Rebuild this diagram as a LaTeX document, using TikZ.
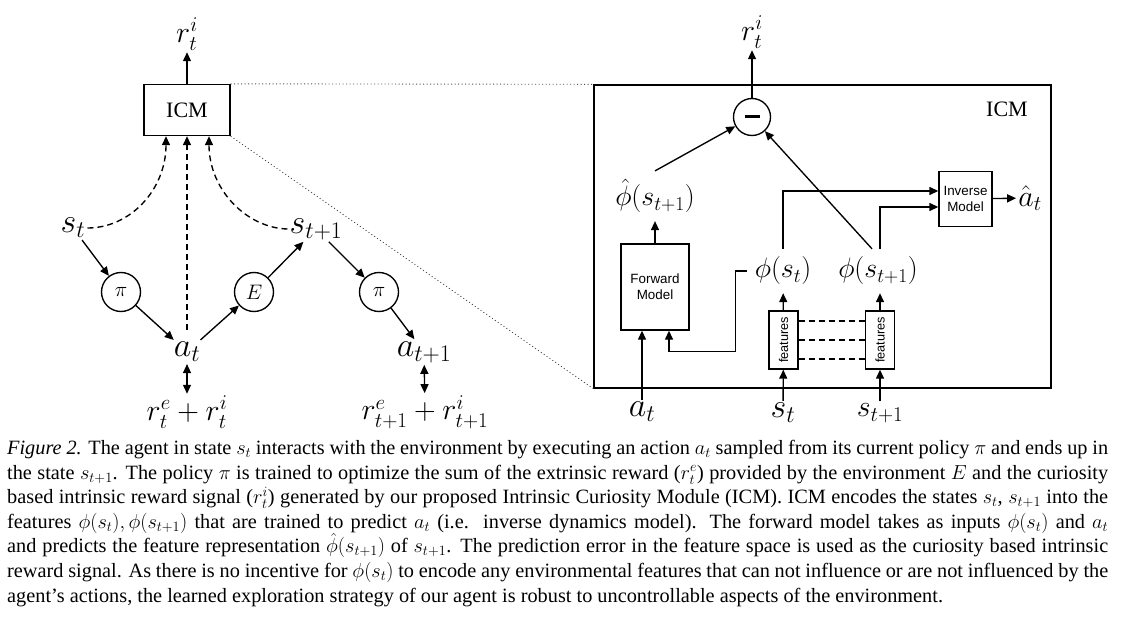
\RequirePackage{fix-cm}
\documentclass[tikz,border=0pt]{standalone}
\usepackage[no-math]{fontspec}
\setmainfont{Liberation Serif}
\setsansfont{Liberation Sans}
\usepackage{graphicx}
\usetikzlibrary{arrows.meta}

\tikzset{
  arr/.style={-{Triangle[length=9pt,width=8pt]}, line width=1.35pt},
  darr/.style={{Triangle[length=9pt,width=8pt]}-{Triangle[length=9pt,width=8pt]}, line width=1.35pt},
  dashline/.style={line width=1.35pt, dash pattern=on 6pt off 4pt},
  dots/.style={line width=0.9pt, dash pattern=on 1pt off 2.5pt, black!70},
  var/.style={font=\fontsize{34}{40}\selectfont, inner sep=2pt},
  rew/.style={font=\fontsize{30}{36}\selectfont, inner sep=2pt},
  feat/.style={font=\fontsize{28}{34}\selectfont, inner sep=8pt},
  policy/.style={circle, draw, line width=1.35pt, minimum size=39pt, inner sep=0pt, font=\fontsize{21}{25}\selectfont},
  module/.style={draw, line width=1.35pt, inner sep=0pt, align=center, font=\fontsize{13.4}{16}\selectfont\sffamily},
  featbox/.style={draw, line width=1.35pt, minimum width=29pt, minimum height=58pt, inner sep=0pt, font=\fontsize{12.7}{15}\selectfont\sffamily}
}

\begin{document}
\begin{tikzpicture}[x=1pt,y=-1pt]
\useasboundingbox (0,0) rectangle (1129,628);

% left: agent and environment
\node[draw, line width=1.35pt, minimum width=86pt, minimum height=51pt, font=\fontsize{22}{26}\selectfont] (icm) at (187,110) {ICM};
\node[rew] (rl) at (187,34) {$r^i_t$};
\node[var] (st) at (73,228) {$s_t$};
\node[var] (st1) at (316,229) {$s_{t+1}$};
\node[var] (at) at (187,352) {$a_t$};
\node[var] (at1) at (424,352) {$a_{t+1}$};
\node[rew] (rsum) at (187,412) {$r^e_t + r^i_t$};
\node[rew] (rsum1) at (425,412) {$r^e_{t+1} + r^i_{t+1}$};
\node[policy] (pi1) at (121,292) {$\pi$};
\node[policy] (env) at (254,292) {$E$};
\node[policy] (pi2) at (379,292) {$\pi$};

\draw[arr] (icm) -- (rl);
\draw[arr] (st) -- (pi1);
\draw[arr] (pi1) -- (at);
\draw[arr] (at) -- (env);
\draw[arr] (env) -- (st1);
\draw[arr] (st1) -- (pi2);
\draw[arr] (pi2) -- (at1);
\draw[darr] (at) -- (rsum);
\draw[darr] (at1) -- (rsum1);

\draw[dashline, arr] (st.east) .. controls (130,228) and (166,190) .. ([xshift=-21pt]icm.south);
\draw[dashline, arr] ([yshift=10pt]at.north) -- (icm.south);
\draw[dashline, arr] (st1.west) .. controls (247,228) and (209,190) .. ([xshift=22pt]icm.south);

% right: inside the ICM
\node[draw, line width=1.35pt, minimum width=457pt, minimum height=303pt] (icmbox) at (822.5,236.5) {};
\node[font=\fontsize{22}{26}\selectfont] (icmname) at (1007,109) {ICM};
\draw[dots] (icm.north east) -- (icmbox.north west);
\draw[dots] (icm.south east) -- (icmbox.south west);

\node[circle, draw, line width=1.35pt, minimum size=37pt, inner sep=0pt] (minus) at (752,117) {\rule{15pt}{3pt}};
\node[rew] (rr) at (752,32) {$r^i_t$};
\node[feat] (hatphi) at (655,196) {$\hat{\phi}(s_{t+1})$};
\node[module, minimum width=68pt, minimum height=86pt] (fwd) at (655,287) {Forward\\Model};
\node[module, minimum width=53pt, minimum height=55pt] (inv) at (965.5,199) {Inverse\\Model};
\node[rew] (ahat) at (1030,198) {$\hat{a}_t$};
\node[feat] (phist) at (783,271) {$\phi(s_t)$};
\node[feat] (phist1) at (878,271) {$\phi(s_{t+1})$};
\node[featbox] (feat1) at (783.5,340) {\rotatebox{90}{features}};
\node[featbox] (feat2) at (880,340) {\rotatebox{90}{features}};
\node[var] (atb) at (642,412) {$a_t$};
\node[var] (stb) at (783,413) {$s_t$};
\node[rew] (st1b) at (880,413) {$s_{t+1}$};

\draw[arr] (minus) -- (rr);
\draw[arr] (hatphi.north) -- (minus);
\draw[arr] ([xshift=-6pt]phist1.north) -- (minus);
\draw[arr] (fwd) -- (hatphi);
\draw[arr] (inv) -- (ahat);
\draw[arr] (phist.north) |- ([yshift=8pt]inv.west);
\draw[arr] ([xshift=2pt]phist1.north) |- ([yshift=-8pt]inv.west);
\draw[arr] (phist.west) -- ++(-11,0) |- ([xshift=14pt,yshift=-21pt]fwd.south) -- ([xshift=14pt]fwd.south);
\draw[arr] (atb) -- (atb |- fwd.south);
\draw[arr] (stb) -- (feat1);
\draw[arr] (st1b) -- (feat2);
\draw[arr] (feat1) -- (phist);
\draw[arr] (feat2) -- (feat2 |- phist1.south);
\foreach \dy in {-19,0,19}
  \draw[dashline] ([yshift=\dy pt]feat1.east) -- ([yshift=\dy pt]feat2.west);

% caption
\node[anchor=north west, inner sep=0pt, text width=1101pt, align=justify, font=\fontsize{20.3}{24.6}\selectfont] (caption) at (7,440) {\textit{Figure 2.} The agent in state $s_t$ interacts with the environment by executing an action $a_t$ sampled from its current policy $\pi$ and ends up in\linebreak
the state $s_{t+1}$. The policy $\pi$ is trained to optimize the sum of the extrinsic reward ($r^e_t$) provided by the environment $E$ and the curiosity\linebreak
based intrinsic reward signal ($r^i_t$) generated by our proposed Intrinsic Curiosity Module (ICM). ICM encodes the states $s_t$, $s_{t+1}$ into the\linebreak
features $\phi(s_t), \phi(s_{t+1})$ that are trained to predict $a_t$ (i.e.\ \ inverse dynamics model). The forward model takes as inputs $\phi(s_t)$ and $a_t$\linebreak
and predicts the feature representation $\hat{\phi}(s_{t+1})$ of $s_{t+1}$. The prediction error in the feature space is used as the curiosity based intrinsic\linebreak
reward signal. As there is no incentive for $\phi(s_t)$ to encode any environmental features that can not influence or are not influenced by the\linebreak
agent's actions, the learned exploration strategy of our agent is robust to uncontrollable aspects of the environment.};

\end{tikzpicture}
\end{document}
